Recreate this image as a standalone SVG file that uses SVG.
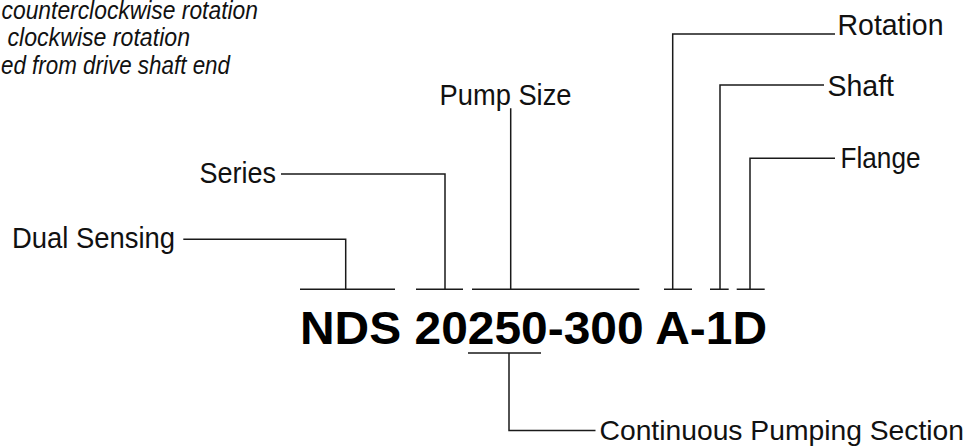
<svg xmlns="http://www.w3.org/2000/svg" width="971" height="447" viewBox="0 0 971 447">
<style>
.lbl{font-family:"Liberation Sans",Arial,sans-serif;font-size:29px;fill:#111;}
.note{font-family:"Liberation Sans",Arial,sans-serif;font-size:25px;font-style:italic;fill:#111;}
.code{font-family:"Liberation Sans",Arial,sans-serif;font-size:47px;font-weight:bold;fill:#000;}
.ln{fill:none;stroke:#1a1a1a;stroke-width:1.5;}
</style>
<rect width="971" height="447" fill="#fff"/>
<g id="note">
<text class="note" x="1.5" y="18.5" textLength="256.5" lengthAdjust="spacingAndGlyphs">counterclockwise rotation</text>
<text class="note" x="7.5" y="46" textLength="182.5" lengthAdjust="spacingAndGlyphs">clockwise rotation</text>
<text class="note" x="1" y="73.5" textLength="229" lengthAdjust="spacingAndGlyphs">ed from drive shaft end</text>
</g>
<g id="code"><text class="code" x="300" y="344" textLength="467" lengthAdjust="spacingAndGlyphs">NDS 20250-300 A-1D</text></g>
<g id="rotation"><text class="lbl" x="837.5" y="35" textLength="106" lengthAdjust="spacingAndGlyphs">Rotation</text></g>
<g id="shaft"><text class="lbl" x="827.5" y="95.5" textLength="66.5" lengthAdjust="spacingAndGlyphs">Shaft</text></g>
<g id="flange"><text class="lbl" x="840.5" y="168.3" textLength="80" lengthAdjust="spacingAndGlyphs">Flange</text></g>
<g id="series"><text class="lbl" x="199.5" y="183.3" textLength="76.5" lengthAdjust="spacingAndGlyphs">Series</text></g>
<g id="dual-sensing"><text class="lbl" x="12" y="248.3" textLength="163" lengthAdjust="spacingAndGlyphs">Dual Sensing</text></g>
<g id="pump-size"><text class="lbl" x="439.5" y="105" textLength="132" lengthAdjust="spacingAndGlyphs">Pump Size</text></g>
<g id="continuous"><text class="lbl" x="599.5" y="440" style="font-size:28px" textLength="364.5" lengthAdjust="spacingAndGlyphs">Continuous Pumping Section</text></g>
<g id="connectors">
<path class="ln" d="M300 289.3H395M183.3 239.3H345.7V289.3"/>
<path class="ln" d="M416 289.3H463M281 174H445V289.3"/>
<path class="ln" d="M472 289.3H639.3M510.7 108.3V289.3"/>
<path class="ln" d="M664 289.3H692M835 34H672.7V289.3"/>
<path class="ln" d="M710 289.3H728.7M824 85H720V289.3"/>
<path class="ln" d="M736.7 289.3H764.7M835 158.3H750V289.3"/>
<path class="ln" d="M468 353H541M509 353V430.5H595.5"/>
</g>
</svg>
